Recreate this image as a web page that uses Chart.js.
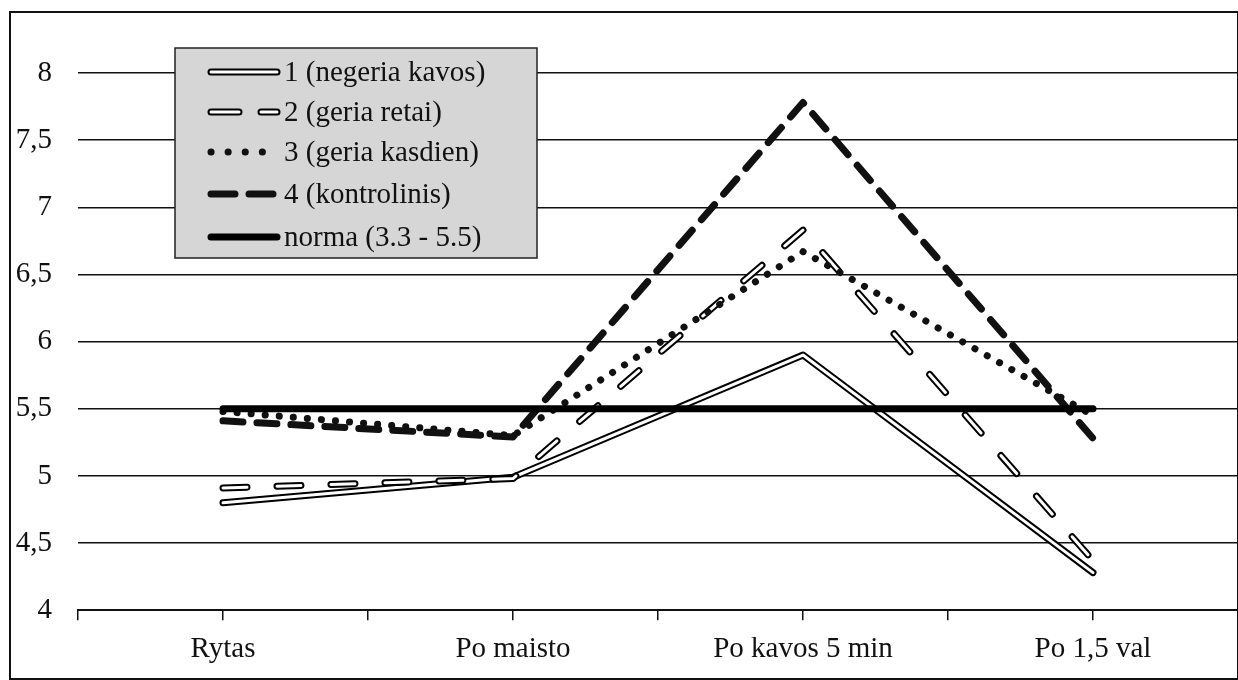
<!DOCTYPE html>
<html lang="lt">

<head>
    <meta charset="UTF-8">
    <script src="https://cdn.jsdelivr.net/npm/chart.js@4"></script>
    <title>Gliukozė</title>
    <style>
        body { margin: 0; background: #fff; }
        #wrap { position: relative; width: 1238px; height: 680px; }
        #frame { position: absolute; left: 9px; top: 11px; width: 1226px; height: 665px; border: 2px solid #111; pointer-events: none; }
    </style>
</head>

<body>
    <div id="wrap">
        <canvas id="myChart" width="1238" height="680"></canvas>
        <div id="frame"></div>
    </div>
</body>

<script type='text/javascript'>

    // categories + values
    const categories = ['Rytas', 'Po maisto', 'Po kavos 5 min', 'Po 1,5 val'];
    const negeria = [4.8, 4.99, 5.9, 4.28];
    const retai = [4.91, 4.98, 6.83, 4.37];
    const kasdien = [5.48, 5.3, 6.67, 5.45];
    const kontrol = [5.41, 5.29, 7.78, 5.28];
    const norma = [5.5, 5.5, 5.5, 5.5];
    const yTicks = [4, 4.5, 5, 5.5, 6, 6.5, 7, 7.5, 8];
    const legendNames = ['1 (negeria kavos)', '2 (geria retai)', '3 (geria kasdien)', '4 (kontrolinis)', 'norma (3.3 - 5.5)'];

    const FONT = '"Liberation Serif", "Times New Roman", serif';

    const pts = arr => arr.map((v, i) => ({ x: i, y: v }));

    // line styles, reused by the legend
    const styles = {
        negeria: [{ color: '#000', width: 7, dash: [] }, { color: '#fff', width: 3, dash: [] }],
        retai: [{ color: '#000', width: 7, dash: [24, 30] }, { color: '#fff', width: 3, dash: [24, 30] }],
        kasdien: [{ color: '#111', width: 7, dash: [0.1, 14] }],
        kontrol: [{ color: '#111', width: 7, dash: [20, 14] }],
        norma: [{ color: '#000', width: 7, dash: [] }]
    };

    const ds = (data, st, order) => ({
        data: pts(data),
        borderColor: st.color,
        borderWidth: st.width,
        borderDash: st.dash,
        borderCapStyle: 'round',
        borderJoinStyle: 'round',
        pointRadius: 0,
        tension: 0,
        fill: false,
        order: order
    });

    const datasets = [
        ds(norma, styles.norma[0], 1),
        ds(kontrol, styles.kontrol[0], 2),
        ds(kasdien, styles.kasdien[0], 3),
        ds(retai, styles.retai[1], 4),
        ds(retai, styles.retai[0], 5),
        ds(negeria, styles.negeria[1], 6),
        ds(negeria, styles.negeria[0], 7)
    ];

    // legend box drawn on canvas, top left like the original
    const legendBox = {
        id: 'legendBox',
        afterDatasetsDraw(chart) {
            const ctx = chart.ctx;
            const x0 = 175, y0 = 48, w = 362, h = 210;
            ctx.save();
            ctx.fillStyle = '#d6d6d6';
            ctx.fillRect(x0, y0, w, h);
            ctx.strokeStyle = '#222';
            ctx.lineWidth = 1.5;
            ctx.strokeRect(x0, y0, w, h);
            const keys = ['negeria', 'retai', 'kasdien', 'kontrol', 'norma'];
            const rows = [72, 112, 152, 194, 237];
            keys.forEach((k, i) => {
                const y = rows[i];
                styles[k].forEach(st => {
                    ctx.beginPath();
                    ctx.strokeStyle = st.color;
                    ctx.lineWidth = st.width;
                    ctx.lineCap = 'round';
                    let d = st.dash;
                    if (k === 'retai') d = [28, 22];
                    if (k === 'kasdien') d = [0.1, 17];
                    if (k === 'kontrol') d = [24, 14];
                    ctx.setLineDash(d);
                    ctx.moveTo(211, y);
                    ctx.lineTo(k === 'kasdien' ? 265 : 277, y);
                    ctx.stroke();
                });
                ctx.setLineDash([]);
                ctx.fillStyle = '#111';
                ctx.font = '29px ' + FONT;
                ctx.textBaseline = 'middle';
                ctx.fillText(legendNames[i], 284, y + 1);
            });
            ctx.restore();
        }
    };

    const ctx = document.getElementById('myChart').getContext('2d');
    const chart = new Chart(ctx, {
        type: 'line',
        data: { datasets: datasets },
        plugins: [legendBox],
        options: {
            responsive: false,
            animation: false,
            layout: { padding: { top: 73, right: 0, bottom: 1, left: 0 } },
            plugins: { legend: { display: false }, tooltip: { enabled: false } },
            scales: {
                x: {
                    type: 'linear',
                    min: -0.5,
                    max: 3.5,
                    afterBuildTicks: axis => {
                        axis.ticks = [];
                        for (let i = 0; i <= categories.length * 2; i++) axis.ticks.push({ value: -0.5 + i * 0.5 });
                    },
                    afterFit: axis => { axis.paddingLeft = 0; axis.paddingRight = 0; },
                    ticks: {
                        autoSkip: false,
                        maxRotation: 0,
                        padding: 12,
                        color: '#111',
                        font: { family: FONT, size: 29 },
                        callback: v => Number.isInteger(v) ? categories[v] : ''
                    },
                    grid: { drawOnChartArea: false, drawTicks: true, tickLength: 10, color: '#111', lineWidth: 1.5 },
                    border: { display: true, color: '#111', width: 2 }
                },
                y: {
                    min: 4,
                    max: 8,
                    afterBuildTicks: axis => { axis.ticks = yTicks.map(v => ({ value: v })); },
                    afterFit: axis => { axis.width = 78; },
                    ticks: {
                        padding: 26,
                        color: '#111',
                        font: { family: FONT, size: 29 },
                        callback: v => String(v).replace('.', ',')
                    },
                    grid: { drawTicks: false, color: '#111', lineWidth: 1.5 },
                    border: { display: false }
                }
            }
        }
    });

</script>

</html>
